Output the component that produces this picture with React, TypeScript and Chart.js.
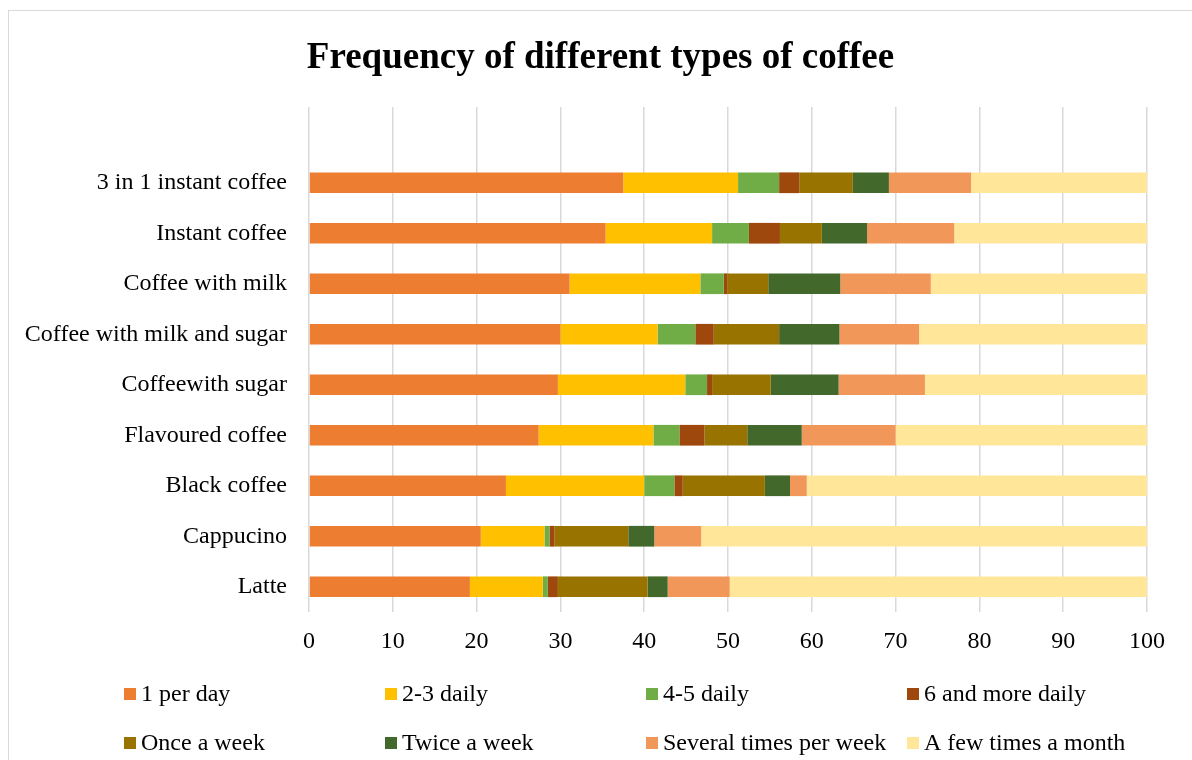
import React, { useEffect, useRef } from "react";
import { Chart, registerables } from "chart.js";

Chart.register(...registerables);

const chartTitle = "Frequency of different types of coffee";

const categories = [
  "3 in 1 instant coffee",
  "Instant coffee",
  "Coffee with milk",
  "Coffee with milk and sugar",
  "Coffeewith sugar",
  "Flavoured coffee",
  "Black coffee",
  "Cappucino",
  "Latte",
];

const seriesNames = [
  "1 per day",
  "2-3 daily",
  "4-5 daily",
  "6 and more daily",
  "Once a week",
  "Twice a week",
  "Several times per week",
  "A few times a month",
];

const seriesColors = [
  "#ED7D31",
  "#FFC000",
  "#70AD47",
  "#9E480E",
  "#997300",
  "#43682B",
  "#F1975A",
  "#FFE699",
];

const onePerDay = [37.5, 35.4, 31.1, 30.0, 29.7, 27.4, 23.5, 20.5, 19.2];
const twoThreeDaily = [13.7, 12.7, 15.6, 11.6, 15.2, 13.7, 16.5, 7.6, 8.7];
const fourFiveDaily = [4.9, 4.4, 2.8, 4.5, 2.6, 3.1, 3.6, 0.6, 0.6];
const sixPlusDaily = [2.4, 3.7, 0.4, 2.2, 0.6, 3.0, 1.0, 0.6, 1.2];
const onceAWeek = [6.4, 5.0, 4.9, 7.8, 7.0, 5.1, 9.8, 8.8, 10.7];
const twiceAWeek = [4.3, 5.4, 8.6, 7.2, 8.1, 6.5, 3.0, 3.1, 2.4];
const severalPerWeek = [9.8, 10.4, 10.8, 9.5, 10.3, 11.2, 2.0, 5.6, 7.4];
const fewPerMonth = [21.0, 23.0, 25.8, 27.2, 26.5, 30.0, 40.6, 53.2, 49.8];

const seriesValues = [
  onePerDay,
  twoThreeDaily,
  fourFiveDaily,
  sixPlusDaily,
  onceAWeek,
  twiceAWeek,
  severalPerWeek,
  fewPerMonth,
];

const xMin = 0;
const xMax = 100;
const xStep = 10;

const FONT = "'Liberation Serif', 'Times New Roman', serif";

const legendPlugin = {
  id: "gridLegend",
  afterDraw(chart: any) {
    const ctx = chart.ctx;
    const startX = 115;
    const colW = 261;
    const rowY = [683, 732];
    const box = 12;
    ctx.save();
    ctx.font = `24px ${FONT}`;
    ctx.textBaseline = "middle";
    ctx.textAlign = "left";
    chart.data.datasets.forEach((ds: any, i: number) => {
      const col = i % 4;
      const row = Math.floor(i / 4);
      const x = startX + col * colW;
      const y = rowY[row];
      ctx.fillStyle = ds.backgroundColor;
      ctx.fillRect(x, y - box / 2, box, box);
      ctx.fillStyle = "#000";
      ctx.fillText(ds.label, x + 17, y + 1);
    });
    ctx.restore();
  },
};

export default function App() {
  const canvasRef = useRef<HTMLCanvasElement | null>(null);

  useEffect(() => {
    if (!canvasRef.current) return;
    const labels = ["", ...categories];
    const datasets = seriesNames.map((name, i) => ({
      label: name,
      data: [null, ...seriesValues[i]],
      backgroundColor: seriesColors[i],
      borderWidth: 0,
      categoryPercentage: 1,
      barPercentage: 0.41,
    }));
    const chart = new Chart(canvasRef.current, {
      type: "bar",
      data: { labels, datasets: datasets as any },
      options: {
        indexAxis: "y",
        animation: false,
        responsive: true,
        maintainAspectRatio: false,
        layout: { padding: { left: 0, right: 0, top: 0, bottom: 98 } },
        plugins: {
          legend: { display: false },
          tooltip: { enabled: false },
          title: {
            display: true,
            text: chartTitle,
            color: "#000",
            font: { family: FONT, size: 37, weight: "bold" },
            padding: { top: 25, bottom: 26.6 },
          },
        },
        scales: {
          x: {
            stacked: true,
            min: xMin,
            max: xMax,
            ticks: {
              stepSize: xStep,
              color: "#000",
              font: { family: FONT, size: 24 },
              padding: 15,
              maxRotation: 0,
            },
            grid: { color: "#d9d9d9", lineWidth: 1.5, drawTicks: false },
            border: { display: false },
            afterFit: (scale: any) => {
              scale.height = 50;
            },
          },
          y: {
            stacked: true,
            ticks: {
              color: "#000",
              font: { family: FONT, size: 24 },
              padding: 22,
              autoSkip: false,
            },
            grid: { display: false, drawTicks: false },
            border: { display: false },
            afterFit: (scale: any) => {
              scale.width = 300;
            },
          },
          yRight: {
            type: "category",
            position: "right",
            display: true,
            ticks: { display: false },
            grid: { display: false, drawTicks: false },
            border: { display: false },
            afterFit: (scale: any) => {
              scale.width = 45;
            },
          },
        },
      } as any,
      plugins: [legendPlugin],
    });
    return () => chart.destroy();
  }, []);

  return (
    <div
      style={{
        position: "absolute",
        left: 8,
        top: 10,
        width: 1184,
        height: 750,
        boxSizing: "border-box",
        borderTop: "1px solid #d9d9d9",
        borderLeft: "1px solid #d9d9d9",
        background: "#fff",
      }}
    >
      <div style={{ position: "relative", width: 1183, height: 749 }}>
        <canvas ref={canvasRef} />
      </div>
    </div>
  );
}
